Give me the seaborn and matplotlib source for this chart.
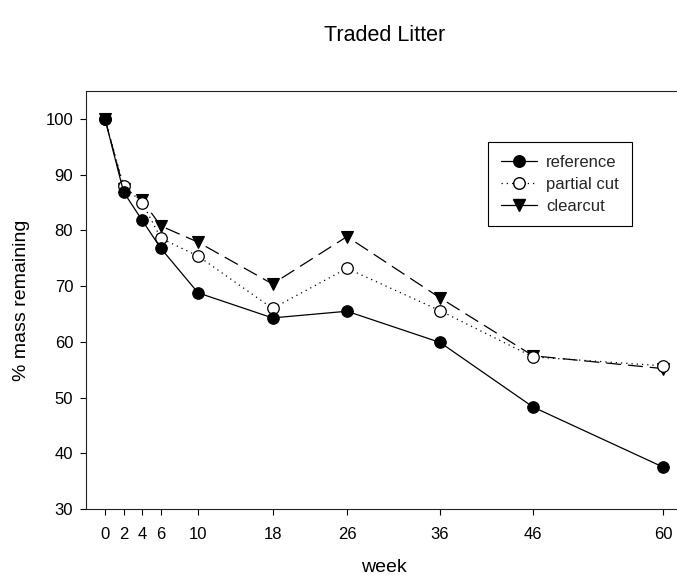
import matplotlib
matplotlib.use("Agg")
import matplotlib.pyplot as plt
from matplotlib.lines import Line2D
import seaborn as sns
import pandas as pd

# Litter-bag sampling weeks and % mass remaining per harvest treatment
weeks = [0, 2, 4, 6, 10, 18, 26, 36, 46, 60]
reference = [100.0, 86.9, 81.8, 76.8, 68.8, 64.3, 65.5, 59.9, 48.3, 37.5]
partial_cut = [100.0, 88.0, 85.0, 78.6, 75.4, 66.0, 73.2, 65.6, 57.3, 55.7]
clearcut = [100.0, 87.5, 85.4, 80.8, 77.9, 70.4, 78.9, 67.9, 57.5, 55.2]

week_ticks = [0, 2, 4, 6, 10, 18, 26, 36, 46, 60]
y_ticks = [30, 40, 50, 60, 70, 80, 90, 100]

sns.set_theme(style="ticks")
plt.rcParams["font.family"] = ["Liberation Sans", "DejaVu Sans"]

W, H = 677, 581
fig = plt.figure(figsize=(W / 100, H / 100), dpi=100)
ax = fig.add_axes([86.4 / W, (H - 509) / H, 595.6 / W, (509 - 91.2) / H])

df = pd.DataFrame({"week": weeks, "reference": reference,
                   "partial cut": partial_cut, "clearcut": clearcut})

lw = 0.9
ms = 8.3
sns.lineplot(data=df, x="week", y="clearcut", ax=ax, color="black",
             linewidth=lw, linestyle=(0, (12, 5.5)), marker="v",
             markersize=ms + 0.5, markerfacecolor="black",
             markeredgecolor="black", markeredgewidth=0.8)
sns.lineplot(data=df, x="week", y="partial cut", ax=ax, color="black",
             linewidth=lw, linestyle=(0, (1, 3.2)), marker="o",
             markersize=ms, markerfacecolor="white",
             markeredgecolor="black", markeredgewidth=0.9)
sns.lineplot(data=df, x="week", y="reference", ax=ax, color="black",
             linewidth=lw, linestyle="-", marker="o",
             markersize=ms, markerfacecolor="black",
             markeredgecolor="black", markeredgewidth=0.8)

ax.set_xlim(-2, 62)
ax.set_ylim(30, 105)
ax.set_xticks(week_ticks)
ax.set_xticklabels([str(w) for w in week_ticks])
ax.set_yticks(y_ticks)
ax.tick_params(axis="both", direction="out", length=4.5, width=0.8,
               color="black", labelsize=12, labelcolor="black")
ax.tick_params(axis="x", pad=8.5)
ax.tick_params(axis="y", pad=5)
for side in ["left", "bottom", "top"]:
    ax.spines[side].set_visible(True)
    ax.spines[side].set_color("#222222")
    ax.spines[side].set_linewidth(0.8)
ax.spines["right"].set_visible(False)

ax.set_xlabel("week", fontsize=14, color="black", labelpad=12)
ax.set_ylabel("% mass remaining", fontsize=14, color="black", labelpad=11)
ax.set_title("Traded Litter", fontsize=15.5, color="black", pad=36)

handles = [
    Line2D([], [], color="black", linewidth=lw, linestyle="-", marker="o",
           markersize=ms, markerfacecolor="black", markeredgecolor="black"),
    Line2D([], [], color="black", linewidth=lw, linestyle=(0, (1, 3.2)),
           marker="o", markersize=ms, markerfacecolor="white",
           markeredgecolor="black"),
    Line2D([], [], color="black", linewidth=lw, linestyle="-", marker="v",
           markersize=ms + 0.5, markerfacecolor="black",
           markeredgecolor="black"),
]
leg = ax.legend(handles, ["reference", "partial cut", "clearcut"],
                loc="upper left", bbox_to_anchor=(488 / W, 1 - 142 / H),
                bbox_transform=fig.transFigure, borderaxespad=0,
                fontsize=12, frameon=True, fancybox=False,
                edgecolor="black", framealpha=1, borderpad=0.75,
                handlelength=2.2, handletextpad=0.55, labelspacing=0.42)
leg.get_frame().set_linewidth(0.8)

fig.savefig("out.png", dpi=100)
